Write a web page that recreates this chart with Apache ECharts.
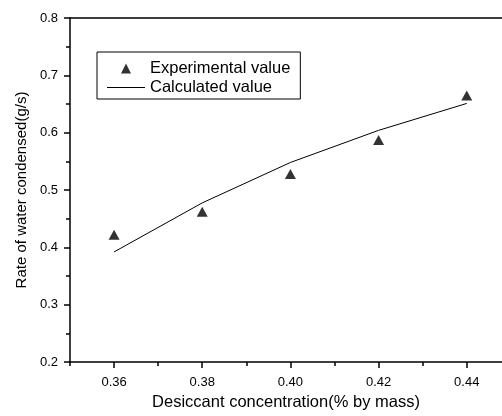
<!DOCTYPE html>
<html>
<head>
<meta charset="utf-8">
<script src="https://cdn.jsdelivr.net/npm/echarts@6/dist/echarts.min.js"></script>
<style>html,body{margin:0;padding:0;background:#fff;}#c{width:502px;height:416px;}</style>
</head>
<body>
<div id="c"></div>
<script>
var concentrations = [0.36, 0.38, 0.40, 0.42, 0.44];
var experimental = [0.422, 0.462, 0.528, 0.587, 0.665];
var calculated = [0.392, 0.4775, 0.548, 0.604, 0.651];
var xMajorTicks = [0.36, 0.38, 0.40, 0.42, 0.44];
var xMinorTicks = [0.35, 0.37, 0.39, 0.41, 0.43];

var FONT = "'Liberation Sans', Arial, sans-serif";
var chart = echarts.init(document.getElementById('c'), null, {renderer: 'canvas'});
function pairs(xs, ys) { return xs.map(function (x, i) { return [x, ys[i]]; }); }

chart.setOption({
  animation: false,
  backgroundColor: '#fff',
  textStyle: {fontFamily: FONT, color: '#000'},
  grid: {left: 70, right: 0, top: 18, bottom: 52},
  legend: {
    orient: 'vertical', left: 97, top: 52,
    padding: [8, 10, 3, 10], itemGap: 2,
    itemWidth: 38, itemHeight: 10,
    symbolKeepAspect: false,
    borderColor: '#000', borderWidth: 1,
    textStyle: {fontFamily: FONT, fontSize: 16.5, color: '#000'},
    data: [
      {name: 'Experimental value', icon: 'path://M0,0 M38,10 M14,10 L19,0 L24,10 Z', itemStyle: {color: '#000'}},
      {name: 'Calculated value', icon: 'path://M0,0 M38,10 M0,4.5 L38,4.5 L38,5.5 L0,5.5 Z', itemStyle: {color: '#000'}}
    ]
  },
  xAxis: [
    {
      type: 'value', min: 0.35, max: 0.448, position: 'bottom',
      name: 'Desiccant concentration(% by mass)', nameLocation: 'middle', nameGap: 32,
      nameTextStyle: {fontFamily: FONT, fontSize: 16.5, color: '#000'},
      axisLine: {show: true, lineStyle: {color: '#000', width: 1.5}},
      axisTick: {show: true, inside: false, length: 6, customValues: xMajorTicks, lineStyle: {color: '#000', width: 1.5}},
      axisLabel: {customValues: xMajorTicks, margin: 14, fontFamily: FONT, fontSize: 13, color: '#000',
        formatter: function (v) { return v.toFixed(2); }},
      splitLine: {show: false}
    },
    {
      type: 'value', min: 0.35, max: 0.448, position: 'bottom',
      axisLine: {show: false},
      axisTick: {show: true, length: 4, customValues: xMinorTicks, lineStyle: {color: '#000', width: 1.5}},
      axisLabel: {show: false},
      splitLine: {show: false}
    },
    {
      type: 'value', min: 0.35, max: 0.448, position: 'top',
      axisLine: {show: true, onZero: false, lineStyle: {color: '#000', width: 1.5}},
      axisTick: {show: false}, axisLabel: {show: false}, splitLine: {show: false}
    }
  ],
  yAxis: {
    type: 'value', min: 0.2, max: 0.8, interval: 0.1,
    name: 'Rate of water condensed(g/s)', nameLocation: 'middle', nameGap: 40,
    nameTextStyle: {fontFamily: FONT, fontSize: 15, color: '#000'},
    axisLine: {show: true, lineStyle: {color: '#000', width: 1.5}},
    axisTick: {show: true, length: 6, lineStyle: {color: '#000', width: 1.5}},
    minorTick: {show: true, splitNumber: 2, length: 4, lineStyle: {color: '#000', width: 1.5}},
    axisLabel: {margin: 12, fontFamily: FONT, fontSize: 13, color: '#000',
      formatter: function (v) { return v.toFixed(1); }},
    splitLine: {show: false}
  },
  series: [
    {
      name: 'Experimental value', type: 'scatter', xAxisIndex: 0,
      symbol: 'triangle', symbolSize: [11, 10],
      itemStyle: {color: '#000'},
      data: pairs(concentrations, experimental)
    },
    {
      name: 'Calculated value', type: 'line', xAxisIndex: 0,
      symbol: 'none', showSymbol: false,
      lineStyle: {color: '#000', width: 1},
      itemStyle: {color: '#000'},
      data: pairs(concentrations, calculated)
    }
  ]
});
</script>
</body>
</html>
